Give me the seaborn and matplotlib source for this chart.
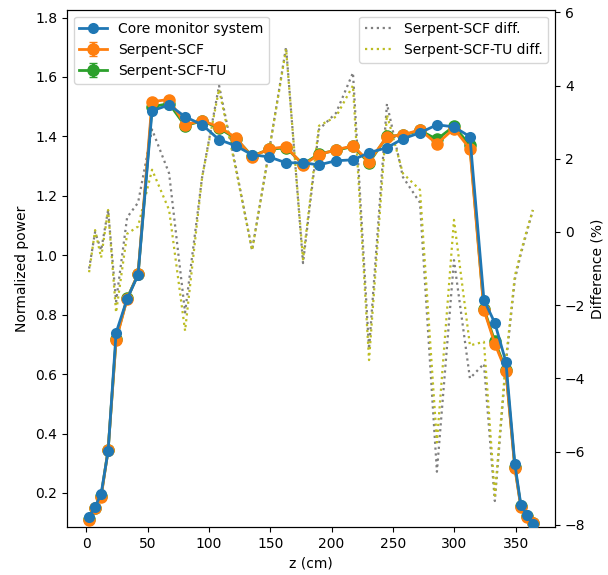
import matplotlib
matplotlib.use("Agg")
import matplotlib.pyplot as plt
import seaborn as sns
import numpy as np
import pandas as pd

# Axial positions (cm)
z = [2.4, 7.3, 12.2, 17.9, 24.4, 33.4, 42.3, 53.7, 67.6, 80.6, 94.5, 108.3,
     122.1, 135.2, 149.0, 162.9, 176.7, 189.7, 203.6, 217.4, 230.5, 245.1,
     258.1, 272.0, 285.8, 299.7, 312.7, 324.1, 333.0, 342.0, 349.3, 354.2,
     359.1, 364.0]

core = [0.119, 0.153, 0.197, 0.341, 0.739, 0.853, 0.934, 1.486, 1.506, 1.466,
        1.439, 1.389, 1.368, 1.338, 1.331, 1.311, 1.311, 1.304, 1.318, 1.321,
        1.345, 1.362, 1.392, 1.412, 1.439, 1.432, 1.399, 0.850, 0.772, 0.641,
        0.298, 0.160, 0.126, 0.096]

scf = [0.109, 0.150, 0.187, 0.345, 0.715, 0.853, 0.937, 1.517, 1.524, 1.439,
       1.453, 1.432, 1.395, 1.331, 1.358, 1.365, 1.304, 1.338, 1.355, 1.368,
       1.315, 1.399, 1.405, 1.422, 1.375, 1.426, 1.358, 0.816, 0.702, 0.611,
       0.284, 0.153, 0.119, 0.099]

scf_tu = [0.111, 0.151, 0.190, 0.345, 0.718, 0.855, 0.936, 1.500, 1.510, 1.436,
          1.452, 1.428, 1.392, 1.334, 1.356, 1.362, 1.306, 1.341, 1.353, 1.366,
          1.311, 1.400, 1.404, 1.420, 1.390, 1.434, 1.370, 0.820, 0.710, 0.615,
          0.288, 0.155, 0.121, 0.100]

scf_err = [0.004] * len(z)
scf_tu_err = [0.004] * len(z)

# Relative differences (%)
scf_diff = [-1.0, 0.0, -0.5, 0.6, -1.9, 0.4, 0.8, 2.8, 1.6, -2.2, 1.5, 4.0,
            1.75, -0.5, 2.2, 5.05, -0.85, 2.8, 3.25, 4.35, -3.2, 3.5, 1.5, 0.8,
            -6.55, -0.77, -4.0, -3.6, -7.35, -3.6, -1.3, -0.6, 0.0, 0.6]

scf_tu_diff = [-1.1, 0.05, -0.7, 0.6, -2.2, -0.05, 0.15, 1.7, 0.6, -2.7, 1.5,
               3.9, 1.7, -0.5, 2.2, 5.0, -0.75, 2.9, 3.15, 4.0, -3.5, 3.2, 1.6,
               1.15, -5.75, 0.33, -3.1, -3.0, -7.2, -3.5, -1.2, -0.55, 0.05, 0.6]

df = pd.DataFrame({"z": z, "core": core, "scf_diff": scf_diff,
                   "scf_tu_diff": scf_tu_diff})

fig, ax = plt.subplots(figsize=(6.08, 5.75), dpi=100)
fig.subplots_adjust(left=0.110, right=0.913, top=0.983, bottom=0.0835)
ax2 = ax.twinx()

# Differences on the right axis (drawn behind the power curves)
sns.lineplot(data=df, x="z", y="scf_diff", ax=ax2, color="tab:gray",
             linestyle=":", linewidth=1.6, label="Serpent-SCF diff.")
sns.lineplot(data=df, x="z", y="scf_tu_diff", ax=ax2, color="tab:olive",
             linestyle=":", linewidth=1.6, label="Serpent-SCF-TU diff.")

ax.set_zorder(ax2.get_zorder() + 1)
ax.patch.set_visible(False)

h_tu = ax.errorbar(z, scf_tu, yerr=scf_tu_err, color="tab:green", marker="o",
                   markersize=8, linewidth=2, capsize=3, zorder=2,
                   label="Serpent-SCF-TU")
h_scf = ax.errorbar(z, scf, yerr=scf_err, color="tab:orange", marker="o",
                    markersize=8, linewidth=2, capsize=3, zorder=3,
                    label="Serpent-SCF")
sns.lineplot(data=df, x="z", y="core", ax=ax, color="tab:blue", marker="o",
             markersize=8, markeredgewidth=0, linewidth=2, zorder=4,
             label="Core monitor system")
h_core = ax.get_lines()[-1]

ax.set_xlim(-15.7, 382.1)
ax.set_ylim(0.0855, 1.826)
ax2.set_ylim(-8.06, 6.07)

ax.set_xlabel("z (cm)")
ax.set_ylabel("Normalized power")
ax2.set_ylabel("Difference (%)")

ax.legend([h_core, h_scf, h_tu],
          ["Core monitor system", "Serpent-SCF", "Serpent-SCF-TU"],
          loc="upper left")
ax2.legend(loc="upper right")

fig.savefig("out.png", dpi=100)
